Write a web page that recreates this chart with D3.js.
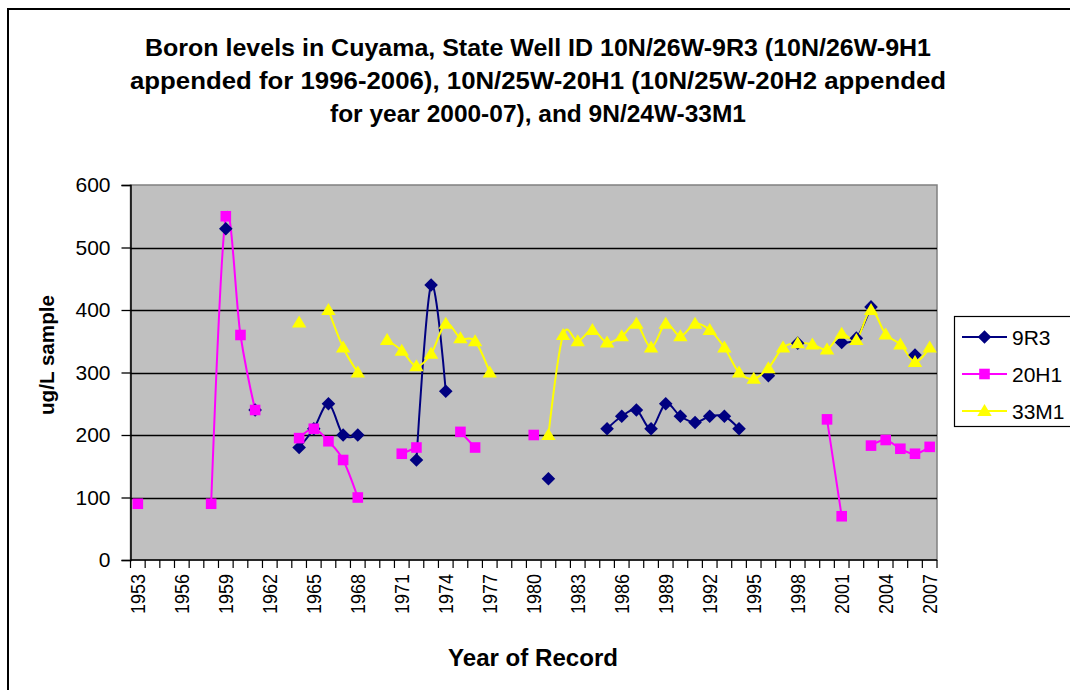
<!DOCTYPE html>
<html>
<head>
<meta charset="utf-8">
<script src="https://cdn.jsdelivr.net/npm/d3@7"></script>
<style>
  html, body { margin: 0; padding: 0; background: #fff; }
  svg { display: block; font-family: "Liberation Sans", Arial, sans-serif; }
</style>
</head>
<body>
<svg id="chart" width="1070" height="690"></svg>
<script>
// Year categories along the x axis
const years = d3.range(1953, 2008);
const tickYears = [1953, 1956, 1959, 1962, 1965, 1968, 1971, 1974, 1977, 1980,
                   1983, 1986, 1989, 1992, 1995, 1998, 2001, 2004, 2007];
const yTicks = [0, 100, 200, 300, 400, 500, 600];

// Boron samples (ug/L) per well, [year, value]
const well9R3 = [
  [1959, 530], [1961, 240], [1964, 180], [1965, 210], [1966, 250], [1967, 200],
  [1968, 200], [1972, 160], [1973, 440], [1974, 270], [1981, 130], [1985, 210],
  [1986, 230], [1987, 240], [1988, 210], [1989, 250], [1990, 230], [1991, 220],
  [1992, 230], [1993, 230], [1994, 210], [1996, 295], [1998, 347], [2001, 348],
  [2002, 355], [2003, 405], [2006, 328]
];
const well20H1 = [
  [1953, 90], [1958, 90], [1959, 550], [1960, 360], [1961, 240], [1964, 195],
  [1965, 210], [1966, 190], [1967, 160], [1968, 100], [1971, 170], [1972, 180],
  [1975, 205], [1976, 180], [1980, 200], [2000, 225], [2001, 70], [2003, 183],
  [2004, 192], [2005, 178], [2006, 170], [2007, 181]
];
const well33M1 = [
  [1964, 380], [1966, 400], [1967, 340], [1968, 300], [1970, 352], [1971, 335],
  [1972, 310], [1973, 330], [1974, 378], [1975, 355], [1976, 350], [1977, 300],
  [1981, 200], [1982, 360], [1983, 350], [1984, 368], [1985, 348], [1986, 358],
  [1987, 378], [1988, 340], [1989, 378], [1990, 358], [1991, 378], [1992, 368],
  [1993, 340], [1994, 300], [1995, 290], [1996, 307], [1997, 340], [1998, 347],
  [1999, 345], [2000, 337], [2001, 362], [2002, 352], [2003, 400], [2004, 361],
  [2005, 345], [2006, 317], [2007, 340]
];

const seriesNames = ["9R3", "20H1", "33M1"];
const seriesData = [well9R3, well20H1, well33M1];
const seriesColors = ["#000080", "#FF00FF", "#FFFF00"];

const titleLines = [
  "Boron levels in Cuyama, State Well ID 10N/26W-9R3 (10N/26W-9H1",
  "appended for 1996-2006), 10N/25W-20H1 (10N/25W-20H2 appended",
  "for year 2000-07), and 9N/24W-33M1"
];

// Marker shapes: square-ish diamond, square, triangle
const diamondSym = { draw(ctx, size) { const r = 6.8;
  ctx.moveTo(0, -r); ctx.lineTo(r, 0); ctx.lineTo(0, r); ctx.lineTo(-r, 0); ctx.closePath(); } };
const squareSym = { draw(ctx, size) { const r = 5.3;
  ctx.rect(-r, -r, 2 * r, 2 * r); } };
const triangleSym = { draw(ctx, size) { const w = 7.2, h = 12;
  ctx.moveTo(0, -h * 0.58); ctx.lineTo(w, h * 0.42); ctx.lineTo(-w, h * 0.42); ctx.closePath(); } };
const seriesSymbols = [diamondSym, squareSym, triangleSym];

const svg = d3.select("#chart");
const plot = { left: 130.5, top: 185, right: 937, bottom: 560 };

const x = d3.scaleBand().domain(years).range([plot.left, plot.right]).padding(0);
const y = d3.scaleLinear().domain([0, 600]).range([plot.bottom, plot.top]);

// Outer chart frame
svg.append("rect")
  .attr("x", 8).attr("y", 9).attr("width", 1100).attr("height", 720)
  .attr("fill", "#fff").attr("stroke", "#000").attr("stroke-width", 2);

// Title
const titleW = [786, 816, 416];
const title = svg.append("g").attr("font-weight", "bold").attr("font-size", 23)
  .attr("text-anchor", "middle").attr("fill", "#000");
titleLines.forEach((t, i) => {
  title.append("text")
    .attr("x", 538).attr("y", 56 + i * 33)
    .attr("textLength", titleW[i]).attr("lengthAdjust", "spacingAndGlyphs")
    .text(t);
});

// Plot area background
svg.append("rect")
  .attr("x", plot.left).attr("y", plot.top)
  .attr("width", plot.right - plot.left).attr("height", plot.bottom - plot.top)
  .attr("fill", "#C0C0C0").attr("stroke", "#808080").attr("stroke-width", 1.5);

// Horizontal gridlines
svg.append("g").selectAll("line")
  .data(yTicks.filter(d => d > 0 && d < 600)).join("line")
  .attr("x1", plot.left).attr("x2", plot.right)
  .attr("y1", d => Math.round(y(d)) + 0.5).attr("y2", d => Math.round(y(d)) + 0.5)
  .attr("stroke", "#000").attr("stroke-width", 1.3);

// Y axis
const yAxis = d3.axisLeft(y).tickValues(yTicks).tickSize(9).tickPadding(11);
const gy = svg.append("g").attr("transform", `translate(${plot.left},0)`).call(yAxis);
gy.select(".domain").attr("stroke", "#000").attr("stroke-width", 1.5);
gy.selectAll(".tick line").attr("stroke", "#000").attr("stroke-width", 1.3);
gy.selectAll(".tick text").attr("font-size", 21).attr("fill", "#000")
  .attr("font-family", "'Liberation Sans', Arial, sans-serif");

// X axis: ticks sit between categories, labels every third year
const xAxis = d3.axisBottom(x).tickValues(tickYears).tickSize(0).tickPadding(0);
const gx = svg.append("g").attr("transform", `translate(0,${plot.bottom})`).call(xAxis);
gx.select(".domain").remove();
gx.selectAll(".tick text")
  .attr("font-size", 20).attr("fill", "#000")
  .attr("font-family", "'Liberation Sans', Arial, sans-serif")
  .attr("text-anchor", "end")
  .attr("transform", "translate(0,14) rotate(-90)")
  .attr("dy", "0.36em").attr("dx", 0).attr("y", 0).attr("x", 0)
  .attr("textLength", 40).attr("lengthAdjust", "spacingAndGlyphs");
svg.append("line")
  .attr("x1", plot.left).attr("x2", plot.right)
  .attr("y1", plot.bottom).attr("y2", plot.bottom)
  .attr("stroke", "#000").attr("stroke-width", 1.5);
const boundaries = years.map(d => x(d)).concat([plot.right]);
svg.append("g").selectAll("line").data(boundaries).join("line")
  .attr("x1", d => d).attr("x2", d => d)
  .attr("y1", plot.bottom).attr("y2", plot.bottom + 8)
  .attr("stroke", "#000").attr("stroke-width", 1.2);

// Axis titles
svg.append("text")
  .attr("x", 533).attr("y", 666)
  .attr("text-anchor", "middle").attr("font-weight", "bold").attr("font-size", 23)
  .attr("textLength", 170).attr("lengthAdjust", "spacingAndGlyphs")
  .text("Year of Record");
svg.append("text")
  .attr("transform", "translate(54,355) rotate(-90)")
  .attr("text-anchor", "middle").attr("font-weight", "bold").attr("font-size", 21)
  .attr("textLength", 120).attr("lengthAdjust", "spacingAndGlyphs")
  .text("ug/L sample");

// Expand [year, value] pairs onto every year so missing years break the line
const aligned = seriesData.map(pairs => {
  const m = new Map(pairs);
  return years.map(yr => ({ year: yr, value: m.has(yr) ? m.get(yr) : null }));
});

const cx = d => x(d.year) + x.bandwidth() / 2;
const line = d3.line()
  .defined(d => d.value !== null)
  .x(cx).y(d => y(d.value))
  .curve(d3.curveCardinal.tension(0));

const plotG = svg.append("g");
aligned.forEach((rows, i) => {
  plotG.append("path")
    .datum(rows)
    .attr("fill", "none")
    .attr("stroke", seriesColors[i]).attr("stroke-width", 2)
    .attr("d", line);
});
aligned.forEach((rows, i) => {
  const sym = d3.symbol().type(seriesSymbols[i]);
  plotG.append("g").selectAll("path")
    .data(rows.filter(d => d.value !== null)).join("path")
    .attr("transform", d => `translate(${cx(d)},${y(d.value)})`)
    .attr("d", sym())
    .attr("fill", seriesColors[i]);
});

// Legend
const legend = svg.append("g");
legend.append("rect")
  .attr("x", 954.5).attr("y", 316.5).attr("width", 130).attr("height", 110)
  .attr("fill", "#fff").attr("stroke", "#000").attr("stroke-width", 1.2);
seriesNames.forEach((name, i) => {
  const ly = 337 + i * 37;
  legend.append("line")
    .attr("x1", 962).attr("x2", 1007).attr("y1", ly).attr("y2", ly)
    .attr("stroke", seriesColors[i]).attr("stroke-width", 2);
  legend.append("path")
    .attr("transform", `translate(984.5,${ly})`)
    .attr("d", d3.symbol().type(seriesSymbols[i])())
    .attr("fill", seriesColors[i]);
  legend.append("text")
    .attr("x", 1012).attr("y", ly + 7.5)
    .attr("font-size", 21).attr("fill", "#000")
    .text(name);
});
</script>
</body>
</html>
